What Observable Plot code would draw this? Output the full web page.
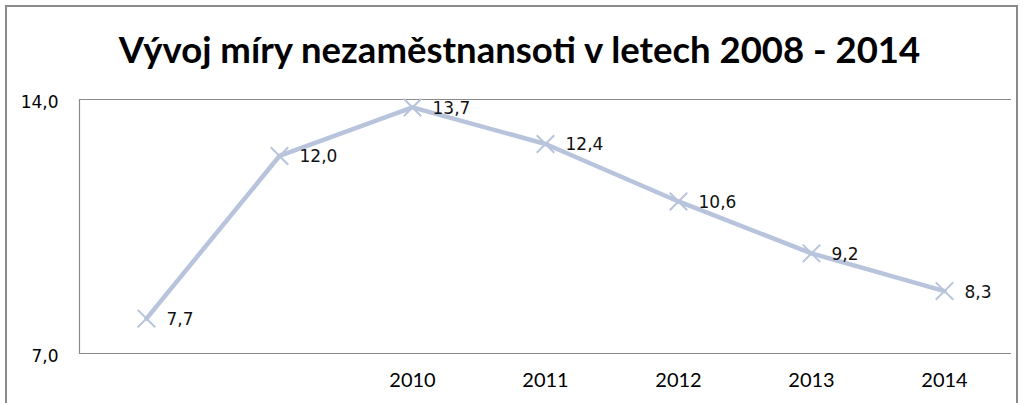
<!DOCTYPE html>
<html>
<head>
<meta charset="utf-8">
<script src="https://cdn.jsdelivr.net/npm/d3@7"></script>
<script src="https://cdn.jsdelivr.net/npm/@observablehq/plot@0.6"></script>
<style>
  html, body { margin: 0; padding: 0; background: #fff; }
  #wrap { position: relative; width: 1025px; height: 403px; overflow: hidden; }
  #border { position: absolute; left: 5px; top: 5px; width: 1013px; height: 420px; border: 2px solid #8a8a8a; border-bottom: none; box-sizing: border-box; }
  #title { position: absolute; left: 0; top: 0; width: 1025px; height: 80px; text-align: center; font-family: Lato, "Open Sans", sans-serif; font-weight: bold; font-size: 36.5px; line-height: 80px; color: #000; padding-top: 9px; padding-left: 14px; box-sizing: border-box; }
  #chart { position: absolute; left: 0; top: 80px; }
</style>
</head>
<body>
<div id="wrap">
  <div id="border"></div>
  <div id="title">Vývoj míry nezaměstnansoti v letech 2008 - 2014</div>
  <div id="chart"></div>
</div>
<script>
const years = [2008, 2009, 2010, 2011, 2012, 2013, 2014];
const rates = [7.7, 12.0, 13.7, 12.4, 10.6, 9.2, 8.3];
const xTickLabels = [2010, 2011, 2012, 2013, 2014];
const yTicks = [7, 14];

const data = years.map((y, i) => ({year: y, rate: rates[i]}));
const fmt = v => v.toFixed(1).replace(".", ",");
const lineColor = "#b8c4dc";

const chart = Plot.plot({
  width: 1025,
  height: 323,
  marginTop: 19,
  marginBottom: 50,
  marginLeft: 79,
  marginRight: 14,
  style: { background: "transparent", overflow: "visible" },
  x: { type: "point", domain: years, padding: 0.5 },
  y: { type: "log", domain: [7, 14], axis: null },
  marks: [
    Plot.ruleY(yTicks, { stroke: "#8a8a8a", strokeWidth: 1.2 }),
    Plot.frame({ anchor: "left", stroke: "#8a8a8a", strokeWidth: 1.2 }),
    Plot.text(yTicks, { y: d => d, text: d => fmt(d), frameAnchor: "left", dx: -21, textAnchor: "end", fontSize: 17, fontFamily: "DejaVu Sans", fill: "#000", dy: 3 }),
    Plot.axisX({ ticks: xTickLabels, tickSize: 0, tickPadding: 19, fontSize: 20, fontFamily: "Lato", fill: "#000", label: null, tickFormat: d => String(d) }),
    Plot.line(data, { x: "year", y: "rate", stroke: lineColor, strokeWidth: 4.5, strokeLinejoin: "round" }),
    Plot.dot(data, { x: "year", y: "rate", symbol: "times", r: 8, stroke: lineColor, strokeWidth: 2 }),
    Plot.text(data, { x: "year", y: "rate", text: d => fmt(d.rate), dx: 20, dy: 1, textAnchor: "start", fontSize: 17, fontFamily: "DejaVu Sans", fill: "#111" })
  ]
});
document.getElementById("chart").append(chart);
</script>
</body>
</html>
